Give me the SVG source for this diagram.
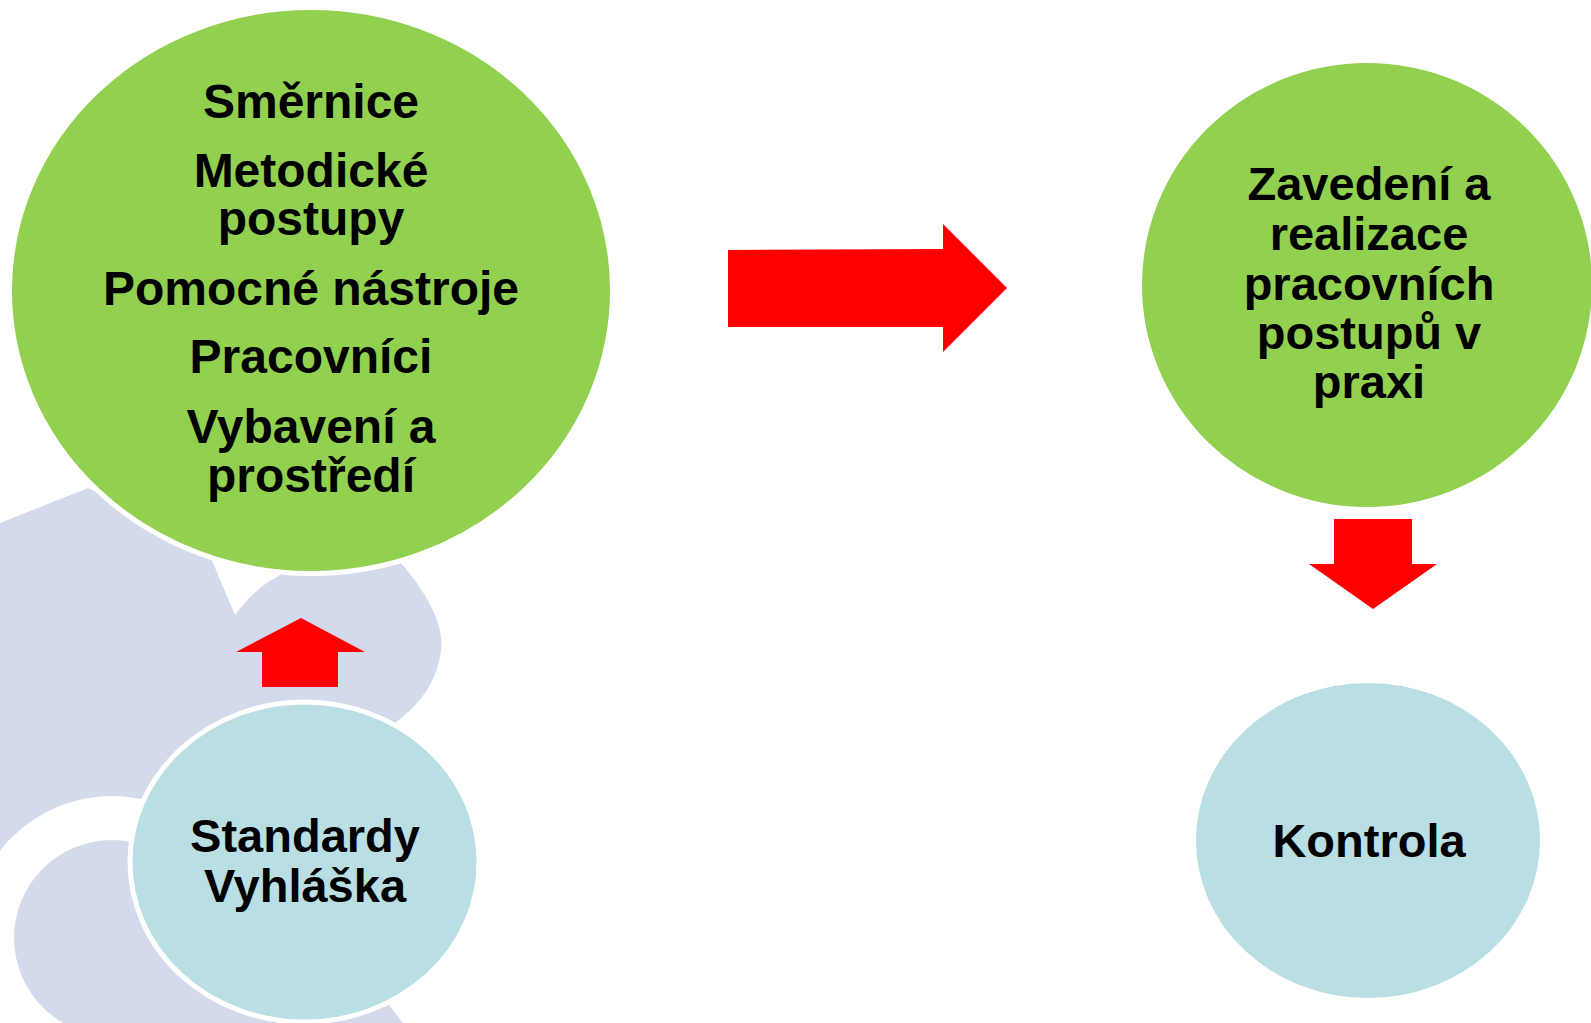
<svg xmlns="http://www.w3.org/2000/svg" width="1591" height="1023" viewBox="0 0 1591 1023">
  <style>
    .lbl { font-family: "Liberation Sans", Arial, sans-serif; font-weight: bold; fill: #000; text-anchor: middle; }
    .l48 { font-size: 48px; }
    .l47 { font-size: 47px; }
    .green { fill: #92D050; stroke: #FFFFFF; stroke-width: 5; }
    .teal { fill: #B9DFE4; stroke: #FFFFFF; stroke-width: 5; }
    .arrow { fill: #FF0000; }
    .bg { fill: #D2DAEC; }
  </style>
  <defs>
    <clipPath id="ringClip">
      <polygon points="112,938 100,1100 -100,1100 -100,600 400,600 400,938"/>
    </clipPath>
  </defs>
  <rect width="1591" height="1023" fill="#FFFFFF"/>
  <g id="background">
    <path class="bg" d="M0,523 L88,488 L205,545 L213,563 L235,615 Q255,588 277,577 L300,560 L395,550 L400,562 C425,590 445,625 441,650 C438,680 420,705 396,722 L385,740 L385,1000 L403,1023 L0,1023 Z"/>
    <path fill="#FFFFFF" fill-rule="evenodd" clip-path="url(#ringClip)" d="M-30,938 A142,142 0 1 1 254,938 A142,142 0 1 1 -30,938 Z M14,938 A98,98 0 1 0 210,938 A98,98 0 1 0 14,938 Z"/>
  </g>
  <g id="connectors">
    <polygon id="arrow-right" class="arrow" points="728,250 943,249 943,224 1007,288 943,352 943,327 728,327"/>
    <polygon id="arrow-down" class="arrow" points="1334,519 1412,519 1412,564 1437,564 1373,609 1309,564 1334,564"/>
    <polygon id="arrow-up" class="arrow" points="262,687 338,687 338,652 365,652 301,618 236,652 262,652"/>
  </g>
  <g id="node-zdroje">
    <ellipse class="green" cx="311" cy="290.5" rx="301.5" ry="283"/>
    <text class="lbl l48" x="311" y="118">Směrnice</text>
    <text class="lbl l48" x="311" y="187">Metodické</text>
    <text class="lbl l48" x="311" y="235">postupy</text>
    <text class="lbl l48" x="311" y="305">Pomocné nástroje</text>
    <text class="lbl l48" x="311" y="373">Pracovníci</text>
    <text class="lbl l48" x="311" y="443">Vybavení a</text>
    <text class="lbl l48" x="311" y="492">prostředí</text>
  </g>
  <g id="node-standardy">
    <ellipse class="teal" cx="304.5" cy="862" rx="174.5" ry="160"/>
    <text class="lbl l47" x="305" y="852">Standardy</text>
    <text class="lbl l47" x="305" y="902">Vyhláška</text>
  </g>
  <g id="node-zavedeni">
    <ellipse class="green" cx="1367" cy="285" rx="227.5" ry="224.5"/>
    <text class="lbl l47" x="1369" y="200">Zavedení a</text>
    <text class="lbl l47" x="1369" y="250">realizace</text>
    <text class="lbl l47" x="1369" y="300">pracovních</text>
    <text class="lbl l47" x="1369" y="349">postupů v</text>
    <text class="lbl l47" x="1369" y="398">praxi</text>
  </g>
  <g id="node-kontrola">
    <ellipse class="teal" cx="1368" cy="840.5" rx="174.5" ry="160"/>
    <text class="lbl l47" x="1369" y="857">Kontrola</text>
  </g>
</svg>
